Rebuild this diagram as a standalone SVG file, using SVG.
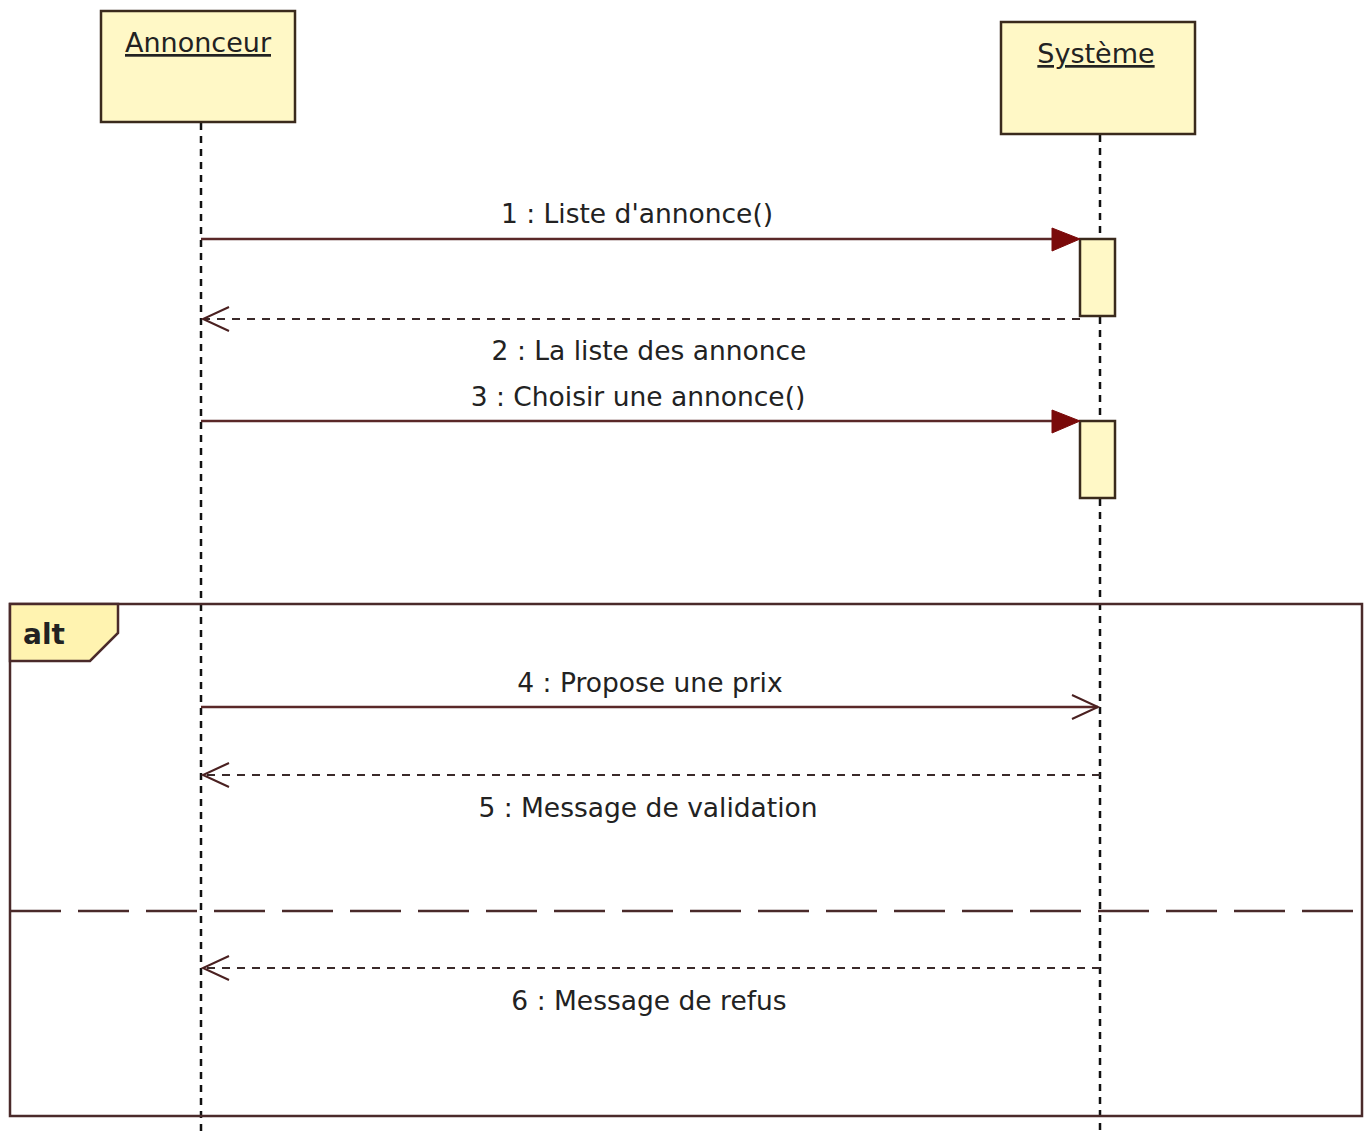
<svg xmlns="http://www.w3.org/2000/svg" width="1369" height="1133" viewBox="0 0 1369 1133">
<style>
.box{fill:#FFF8C6;stroke:#3a2a1c;stroke-width:2.5}
.act{fill:#FFF8C6;stroke:#3a2a1c;stroke-width:2.5}
.life{stroke:#111;stroke-width:2.5;stroke-dasharray:7 6;fill:none}
.msg{stroke:#5a2828;stroke-width:2.5;fill:none}
.ret{stroke:#3a2a2a;stroke-width:2.2;stroke-dasharray:8 7;fill:none}
.head{fill:#7a0a0a;stroke:#7a0a0a;stroke-width:1}
.open{stroke:#4a2020;stroke-width:2;fill:none}
.lbl{font-family:"DejaVu Sans",Verdana,sans-serif;font-size:26.5px;fill:#222;text-anchor:middle}
.name{font-family:"DejaVu Sans",Verdana,sans-serif;font-size:27px;fill:#222;text-anchor:middle;text-decoration:underline}
.frame{fill:none;stroke:#4a2a2a;stroke-width:2.5}
.sep{stroke:#4a2a2a;stroke-width:2.5;stroke-dasharray:51 17;fill:none}
</style>
<g id="lifelines">
<line class="life" x1="201" y1="123" x2="201" y2="1133"/>
<line class="life" x1="1100" y1="135" x2="1100" y2="1133"/>
</g>
<g id="Annonceur">
<rect class="box" x="101" y="11" width="194" height="111"/>
<text class="name" x="198" y="52">Annonceur</text>
</g>
<g id="Systeme">
<rect class="box" x="1001" y="22" width="194" height="112"/>
<text class="name" x="1096" y="63">Système</text>
</g>
<g id="activation1">
<rect class="act" x="1080" y="239" width="35" height="77"/>
</g>
<g id="activation2">
<rect class="act" x="1080" y="421" width="35" height="77"/>
</g>
<g id="alt">
<rect class="frame" x="10" y="604" width="1352" height="512"/>
<path d="M10 604 L118 604 L118 633 L90 661 L10 661 Z" fill="#FFF3B0" stroke="#4a2a2a" stroke-width="2.5"/>
<text x="23" y="644" font-family="DejaVu Sans,Verdana,sans-serif" font-size="28" font-weight="bold" fill="#222">alt</text>
<line class="sep" x1="10" y1="911" x2="1362" y2="911"/>
</g>
<g id="connectors">
<line class="msg" x1="201" y1="239" x2="1056" y2="239"/>
<polygon class="head" points="1052,228 1080,239 1052,251"/>
<text class="lbl" x="637" y="223">1 : Liste d'annonce()</text>
<line class="ret" x1="1080" y1="319" x2="203" y2="319"/>
<polyline class="open" points="229,307 203,319 229,331"/>
<text class="lbl" x="649" y="360">2 : La liste des annonce</text>
<line class="msg" x1="201" y1="421" x2="1056" y2="421"/>
<polygon class="head" points="1052,410 1080,421 1052,433"/>
<text class="lbl" x="638" y="406">3 : Choisir une annonce()</text>
<line class="msg" x1="201" y1="707" x2="1098" y2="707"/>
<polyline class="open" points="1072,695 1098,707 1072,719"/>
<text class="lbl" x="650" y="692">4 : Propose une prix</text>
<line class="ret" x1="1100" y1="775" x2="203" y2="775"/>
<polyline class="open" points="229,763 203,775 229,787"/>
<text class="lbl" x="648" y="817">5 : Message de validation</text>
<line class="ret" x1="1100" y1="968" x2="203" y2="968"/>
<polyline class="open" points="229,956 203,968 229,980"/>
<text class="lbl" x="649" y="1010">6 : Message de refus</text>
</g>
</svg>
